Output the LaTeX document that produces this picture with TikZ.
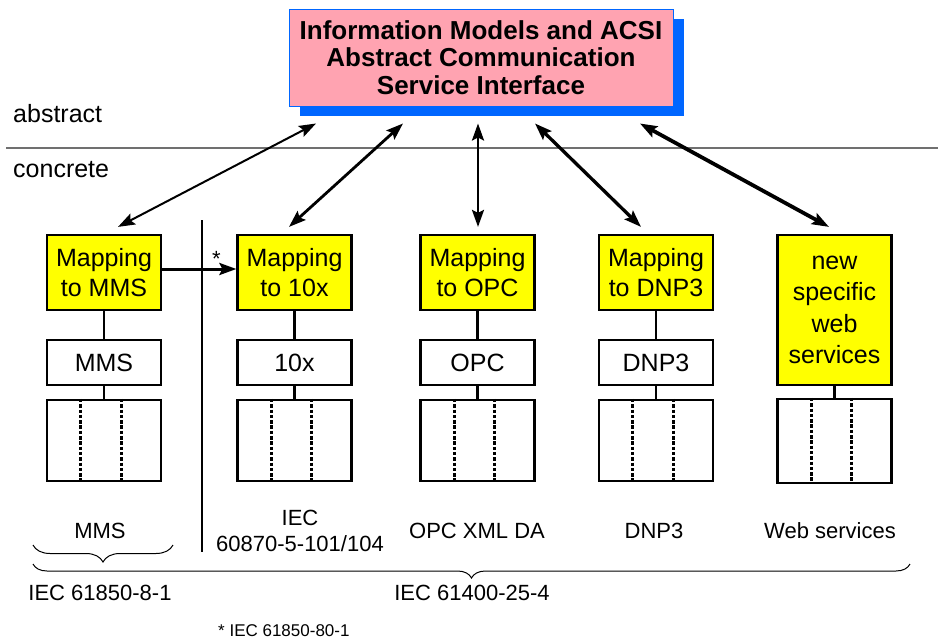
\documentclass[tikz,border=0pt]{standalone}
\usepackage{fontspec}
\setmainfont{Liberation Sans}
\usetikzlibrary{arrows.meta,calc,shadows,decorations.pathreplacing}

\definecolor{acsipink}{RGB}{255,163,177}
\definecolor{acsiblue}{RGB}{0,102,255}
\definecolor{mapyellow}{RGB}{255,255,0}
\definecolor{divgray}{RGB}{112,112,112}

\tikzset{
  acsibox/.style={draw=acsiblue, line width=1pt, fill=acsipink, minimum width=384pt, minimum height=97pt,
    inner sep=0pt, align=center, font=\fontsize{26}{27.5}\selectfont\bfseries,
    drop shadow={shadow xshift=11pt, shadow yshift=-10pt, fill=acsiblue, opacity=1}},
  mapbox/.style={draw, line width=2.2pt, fill=mapyellow, minimum width=114pt, minimum height=75pt,
    inner sep=0pt, align=center, font=\fontsize{25}{29.5}\selectfont},
  protobox/.style={draw, line width=2.2pt, fill=white, minimum width=114pt, minimum height=45pt,
    inner sep=0pt, font=\fontsize{25}{29}\selectfont},
  stackbox/.style={draw, line width=2.2pt, minimum width=114pt, minimum height=81pt, inner sep=0pt},
  stackdash/.style={line width=3pt, dash pattern=on 3.5pt off 1.8pt},
  dblarrow/.style={{Stealth[length=17pt,width=12pt,inset=3pt]}-{Stealth[length=17pt,width=12pt,inset=3pt]}},
  lbl/.style={inner sep=0pt, align=center, font=\fontsize{22}{26}\selectfont},
  bracedeco/.style={line width=1pt, decorate, decoration={brace, mirror, amplitude=#1}}
}

\begin{document}
\begin{tikzpicture}[x=1pt, y=-1pt]
\useasboundingbox (0,0) rectangle (938,640);

% abstract part
\node[acsibox] (acsi) at (481,57.5) {Information Models and ACSI\\Abstract Communication\\Service Interface};
\draw[divgray, line width=1.3pt] (6,148) -- (938,148);
\node[anchor=west, inner sep=0pt, font=\fontsize{25}{29}\selectfont] (abs) at (13,114) {abstract};
\node[anchor=west, inner sep=0pt, font=\fontsize{25}{29}\selectfont] (con) at (13,170) {concrete};

% mappings
\node[mapbox] (mapmms) at (104,272.5) {Mapping\\to MMS};
\node[mapbox] (map10x) at (294.5,272.5) {Mapping\\to 10x};
\node[mapbox] (mapopc) at (477.5,272.5) {Mapping\\to OPC};
\node[mapbox] (mapdnp) at (656,272.5) {Mapping\\to DNP3};
\node[mapbox, minimum height=150pt, font=\fontsize{25}{31.5}\selectfont] (mapweb) at (834.5,310) {new\\specific\\web\\services};

\node[protobox] (mms) at (104,362.5) {MMS};
\node[protobox] (tenx) at (294.5,362.5) {10x};
\node[protobox] (opc) at (477.5,362.5) {OPC};
\node[protobox] (dnp) at (656,362.5) {DNP3};

\node[stackbox] (stmms) at (104,440.5) {};
\node[stackbox] (st10x) at (294.5,440.5) {};
\node[stackbox] (stopc) at (477.5,440.5) {};
\node[stackbox] (stdnp) at (656,440.5) {};
\node[stackbox, minimum height=84pt] (stweb) at (834.5,441) {};

\foreach \s in {stmms,st10x,stopc,stdnp,stweb} {
  \draw[stackdash] ($(\s.north west)!0.3!(\s.north east)$) -- ($(\s.south west)!0.3!(\s.south east)$);
  \draw[stackdash] ($(\s.north west)!0.65!(\s.north east)$) -- ($(\s.south west)!0.65!(\s.south east)$);
}

\foreach \a/\b in {mapmms/mms, mms/stmms, map10x/tenx, tenx/st10x, mapopc/opc, opc/stopc, mapdnp/dnp, dnp/stdnp, mapweb/stweb}
  \draw[line width=2.2pt] (\a) -- (\b);

% links to ACSI
\foreach \tgt/\ux/\lx/\lw in {mapmms/-165/14/2, map10x/-78/-5.5/2.8, mapopc/-3/0.5/2.5, mapdnp/54/-15/3.3, mapweb/159/-5.5/3.8}
  \draw[dblarrow, line width=\lw pt] ([xshift=\ux pt, yshift=-17pt]acsi.south) -- ([xshift=\lx pt, yshift=7pt]\tgt.north);

\draw[line width=3pt, -{Stealth[length=17pt,width=12pt,inset=3pt]}] (mapmms.east |- 0,269) -- (map10x.west |- 0,269)
  node[pos=0.73, above=1pt, inner sep=0pt, font=\fontsize{22}{26}\selectfont] (star) {*};

\draw[line width=2pt] (202,220) -- (202,552);

% standards
\node[lbl] (lmms) at (100,531) {MMS};
\node[lbl] (l10x) at (300,531) {IEC\\60870-5-101/104};
\node[lbl] (lopc) at (477,531) {OPC XML DA};
\node[lbl] (ldnp) at (654,531) {DNP3};
\node[lbl] (lweb) at (830,531) {Web services};

\draw[bracedeco=17pt] (33,545) -- (173,545);
\draw[bracedeco=14pt] (33,564) -- (910,564);

\node[lbl] (i8) at (100,593) {IEC 61850-8-1};
\node[lbl] (i25) at (472,593) {IEC 61400-25-4};

\node[anchor=base west, inner sep=0pt, font=\fontsize{17}{20}\selectfont] (foot) at (218,636) {* IEC 61850-80-1};
\end{tikzpicture}
\end{document}
